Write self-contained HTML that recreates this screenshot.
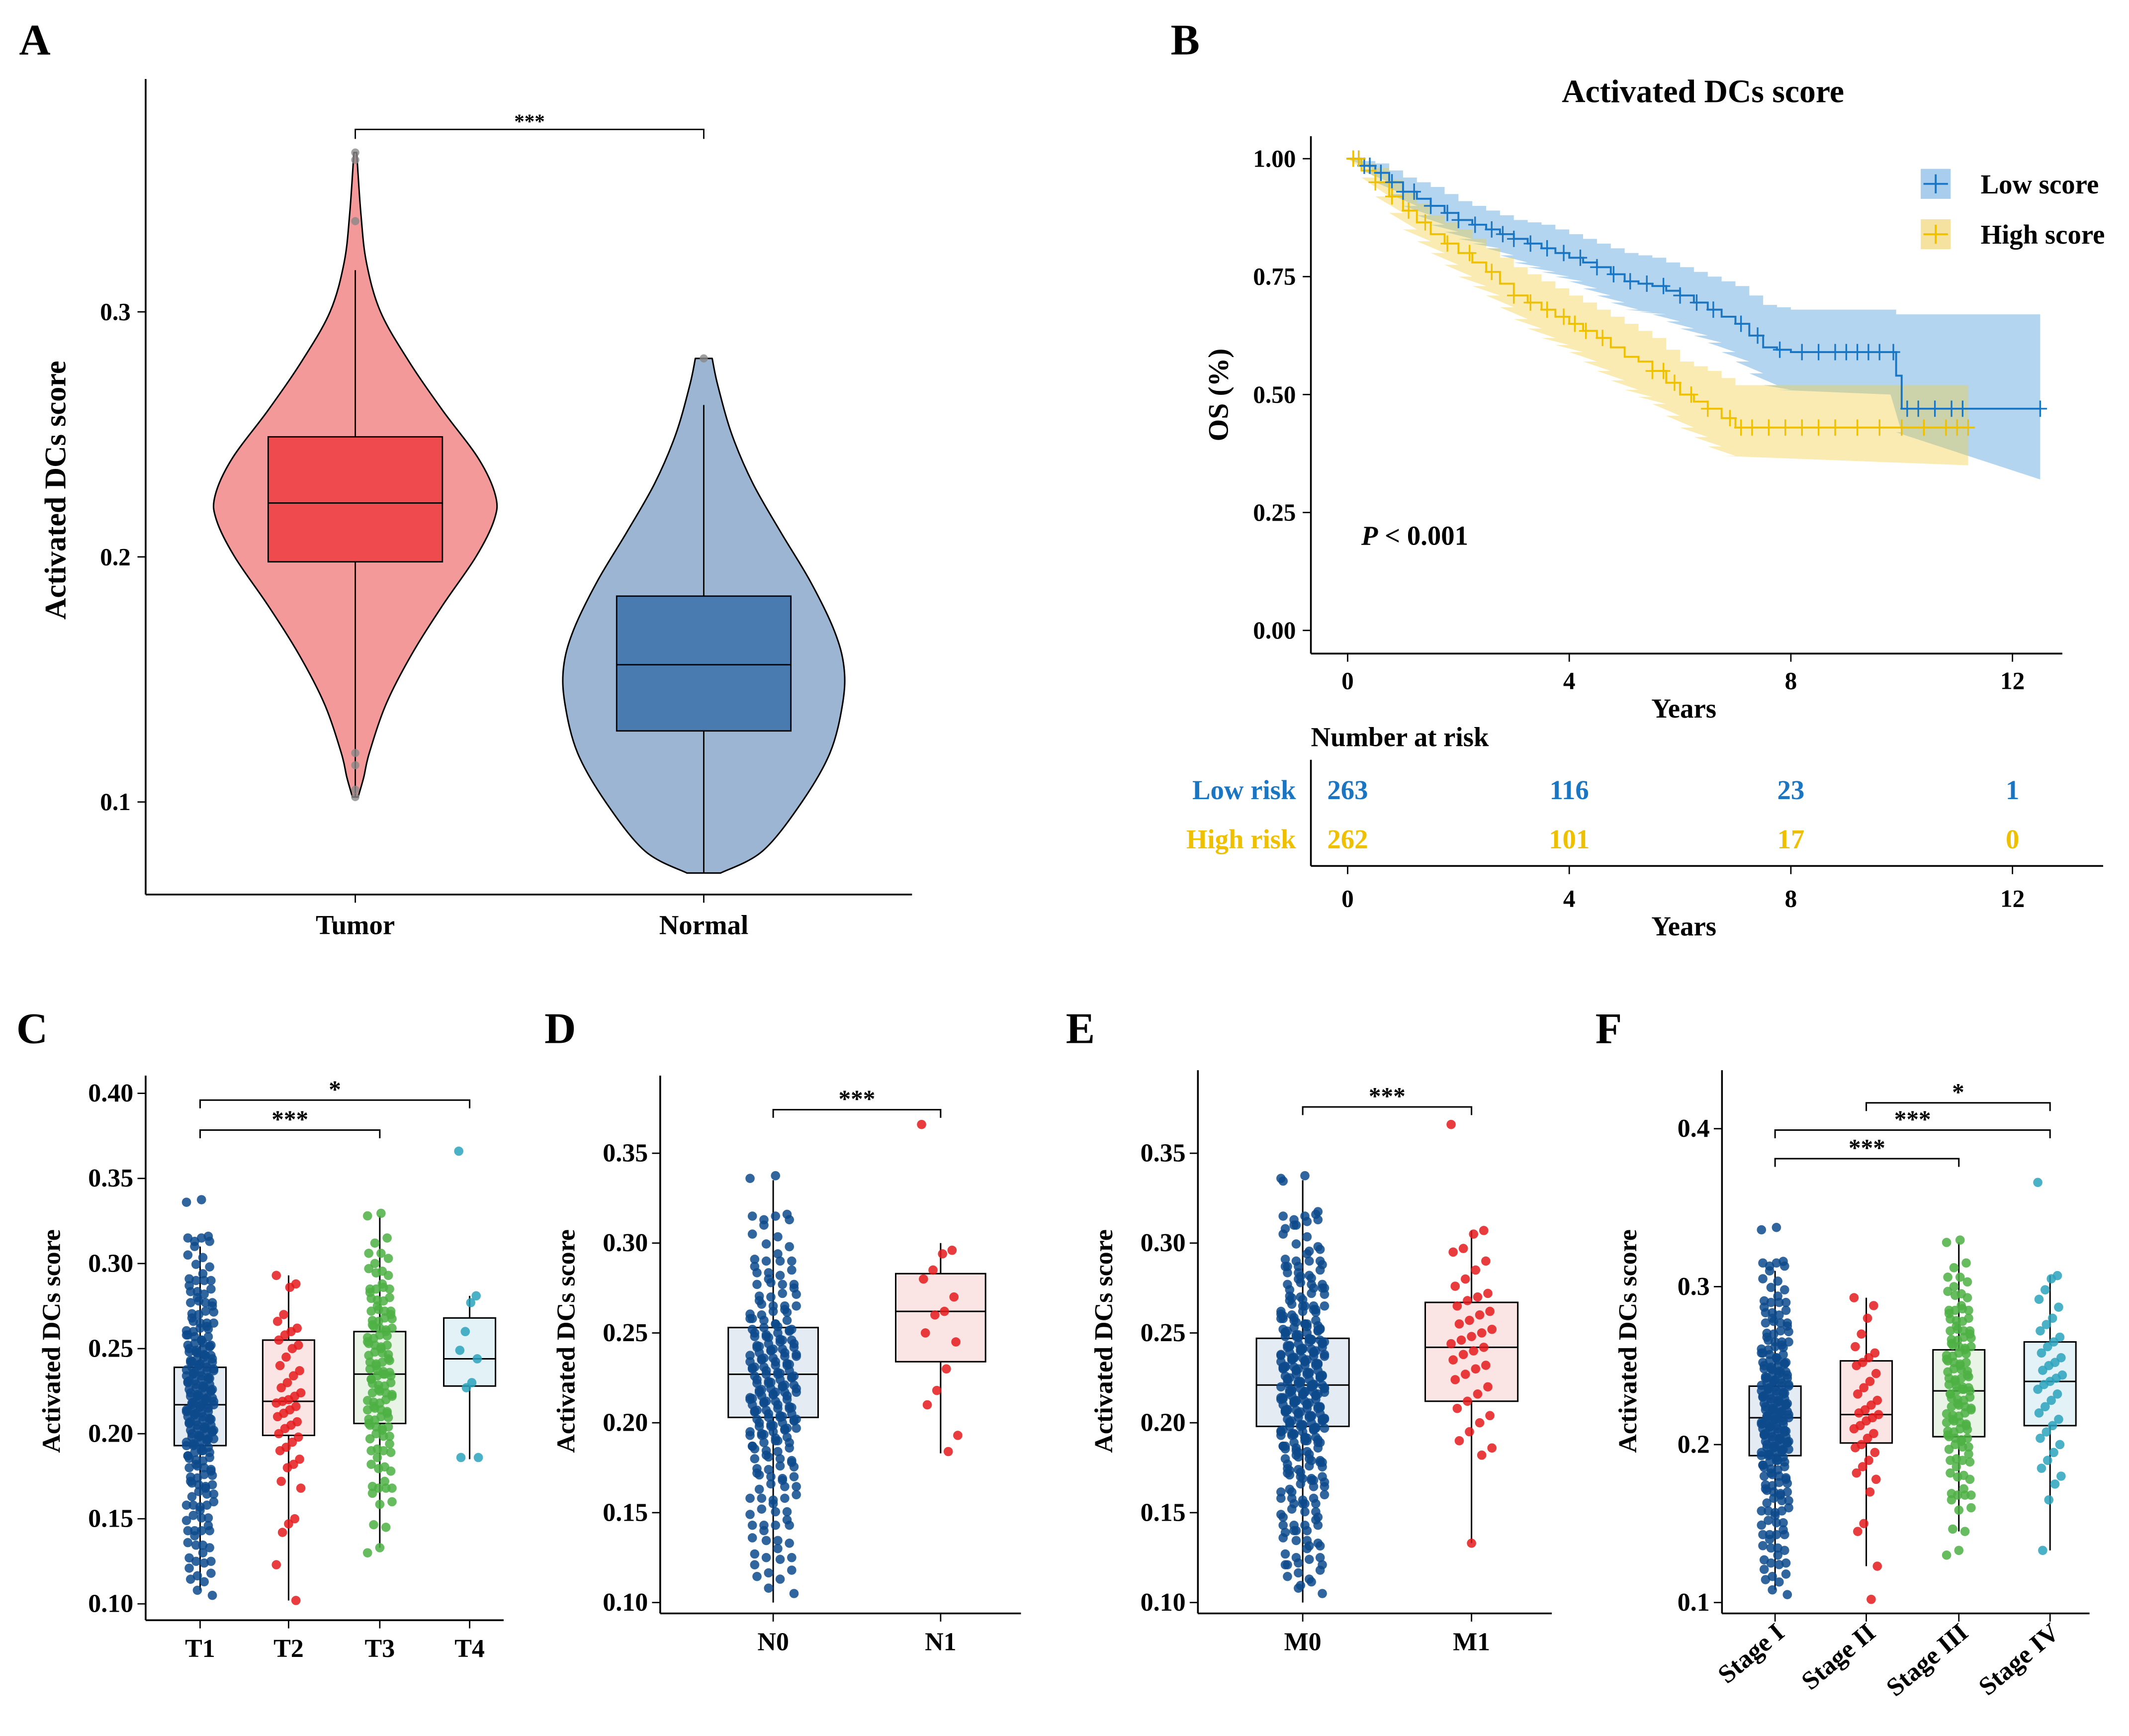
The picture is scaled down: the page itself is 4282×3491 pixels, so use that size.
<!DOCTYPE html>
<html><head><meta charset="utf-8"><style>
html,body{margin:0;padding:0;background:#fff}
svg{display:block;font-family:"Liberation Serif",serif;font-weight:bold}
</style></head><body>
<svg id="fig" width="4282" height="3491" viewBox="0 0 1564 1275" xmlns="http://www.w3.org/2000/svg">
<rect width="1564" height="1275" fill="#fff"/>
<g font-size="32">
<text x="14" y="40">A</text>
<text x="860" y="40">B</text>
<text x="12" y="766">C</text>
<text x="400" y="766">D</text>
<text x="783" y="766">E</text>
<text x="1172" y="766">F</text>
</g>
<g id="pA"></g>
<g id="pB"></g>
<g id="pC"></g>
<g id="pD"></g>
<g id="pE"></g>
<g id="pF"></g>
</svg>
<script>
// ---------- Panel A data ----------
const aCategories = ["Tumor","Normal"];
const aTicks = [0.1,0.2,0.3];
const tumorViolinV = [0.102,0.11,0.12,0.14,0.16,0.18,0.2,0.215,0.225,0.24,0.26,0.28,0.3,0.32,0.34,0.365];
const tumorViolinD = [0.02,0.06,0.1,0.22,0.4,0.62,0.86,0.99,1.0,0.88,0.62,0.38,0.18,0.08,0.04,0.01];
const normalViolinV = [0.071,0.08,0.1,0.12,0.14,0.155,0.17,0.19,0.21,0.23,0.25,0.27,0.281];
const normalViolinD = [0.12,0.42,0.7,0.9,0.99,1.0,0.93,0.76,0.55,0.35,0.2,0.1,0.06];
const aBoxStats = [[0.102,0.198,0.222,0.249,0.317],[0.071,0.129,0.156,0.184,0.262]];
const aOutliers = [[0.365,0.362,0.337,0.12,0.115,0.105,0.102],[0.281]];
// ---------- Panel B data ----------
const kmTicks = [0,4,8,12];
const kmYTicks = [0,0.25,0.5,0.75,1.0];
const lowT = [0,0.25,0.5,0.75,1,1.25,1.5,1.75,2,2.25,2.5,2.75,3,3.25,3.5,3.75,4,4.25,4.5,4.75,5,5.25,5.5,5.75,6,6.25,6.5,6.75,7,7.25,7.5,7.75,8,9.8,9.9,10,12.5];
const lowS = [1,0.985,0.97,0.95,0.93,0.915,0.9,0.885,0.87,0.86,0.85,0.84,0.83,0.82,0.81,0.8,0.79,0.78,0.77,0.755,0.74,0.735,0.73,0.72,0.71,0.695,0.68,0.665,0.65,0.625,0.6,0.595,0.59,0.59,0.54,0.47,0.47];
const lowU = [1,0.995,0.99,0.975,0.96,0.95,0.94,0.925,0.91,0.9,0.89,0.88,0.87,0.865,0.86,0.85,0.84,0.83,0.82,0.81,0.8,0.795,0.79,0.78,0.77,0.76,0.75,0.74,0.73,0.71,0.69,0.685,0.68,0.68,0.67,0.67,0.67];
const lowL = [1,0.975,0.95,0.925,0.9,0.88,0.86,0.845,0.83,0.82,0.81,0.795,0.78,0.77,0.76,0.75,0.74,0.725,0.71,0.695,0.68,0.675,0.67,0.655,0.64,0.625,0.61,0.59,0.57,0.545,0.52,0.51,0.5,0.5,0.42,0.32,0.32];
const highT = [0,0.25,0.5,0.75,1,1.25,1.5,1.75,2,2.25,2.5,2.75,3,3.25,3.5,3.75,4,4.25,4.5,4.75,5,5.25,5.5,5.75,6,6.25,6.5,6.75,7,11.2];
const highS = [1,0.975,0.95,0.92,0.89,0.865,0.84,0.82,0.8,0.78,0.76,0.735,0.71,0.695,0.68,0.665,0.65,0.635,0.62,0.6,0.58,0.57,0.55,0.525,0.5,0.485,0.47,0.45,0.43,0.43];
const highU = [1,0.99,0.98,0.955,0.93,0.905,0.88,0.865,0.85,0.83,0.81,0.79,0.77,0.755,0.74,0.725,0.71,0.695,0.68,0.665,0.65,0.635,0.62,0.595,0.57,0.56,0.55,0.535,0.52,0.52];
const highL = [1,0.96,0.92,0.885,0.85,0.825,0.8,0.775,0.75,0.73,0.71,0.685,0.66,0.64,0.62,0.605,0.59,0.57,0.55,0.53,0.51,0.495,0.48,0.455,0.43,0.41,0.39,0.37,0.35,0.35];
const lowCens = [0.1,0.2,0.3,0.4,0.6,0.8,1.0,1.2,1.5,1.8,2.0,2.3,2.6,2.8,3.0,3.3,3.6,3.9,4.2,4.5,4.8,5.1,5.4,5.7,6.0,6.3,6.6,7.1,7.4,7.8,8.2,8.5,8.8,9.0,9.2,9.4,9.6,9.85,10.1,10.3,10.6,10.9,11.1,12.5];
const highCens = [0.1,0.2,0.5,0.8,1.1,1.4,1.8,2.2,2.6,3.0,3.3,3.6,3.9,4.1,4.3,4.6,5.5,5.7,5.9,6.2,6.5,6.9,7.1,7.3,7.6,7.9,8.2,8.5,8.8,9.2,9.6,10.0,10.4,10.8,11.0,11.2];
const riskLow = [263,116,23,1];
const riskHigh = [262,101,17,0];
// ---------- Panels C-F data ----------
const tCats = ["T1","T2","T3","T4"];
const nCats = ["N0","N1"];
const mCats = ["M0","M1"];
const sCats = ["Stage I","Stage II","Stage III","Stage IV"];
const cTicks = [0.10,0.15,0.20,0.25,0.30,0.35,0.40];
const dTicks = [0.10,0.15,0.20,0.25,0.30,0.35];
const fTicks = [0.1,0.2,0.3,0.4];
const bigGroup = [0.336,0.316,0.315,0.31,0.305,0.298,0.294,0.29,0.287,0.285,0.282,0.28,0.277,0.275,0.272,0.27,0.268,0.265,0.263,0.262,0.26,0.258,0.257,0.255,0.253,0.252,0.251,0.25,0.249,0.248,0.246,0.245,0.244,0.243,0.242,0.241,0.24,0.239,0.238,0.237,0.236,0.235,0.234,0.233,0.232,0.231,0.23,0.229,0.228,0.227,0.226,0.225,0.224,0.223,0.222,0.221,0.22,0.219,0.218,0.217,0.217,0.216,0.215,0.214,0.213,0.212,0.211,0.21,0.209,0.208,0.207,0.206,0.205,0.204,0.203,0.202,0.201,0.2,0.199,0.198,0.197,0.196,0.195,0.194,0.193,0.192,0.19,0.189,0.187,0.186,0.184,0.182,0.18,0.178,0.176,0.174,0.172,0.17,0.168,0.166,0.163,0.16,0.158,0.155,0.152,0.149,0.146,0.143,0.14,0.136,0.133,0.13,0.125,0.121,0.118,0.113,0.108];
const t2Vals = [0.293,0.288,0.286,0.27,0.266,0.262,0.26,0.258,0.255,0.252,0.25,0.245,0.24,0.237,0.234,0.23,0.227,0.224,0.222,0.22,0.219,0.218,0.216,0.214,0.212,0.21,0.207,0.205,0.203,0.2,0.198,0.195,0.192,0.19,0.185,0.182,0.18,0.172,0.168,0.15,0.147,0.142,0.123,0.102];
const t3Vals = [0.328,0.315,0.306,0.3,0.297,0.293,0.288,0.285,0.283,0.28,0.278,0.275,0.272,0.27,0.268,0.266,0.264,0.262,0.26,0.258,0.256,0.254,0.252,0.25,0.248,0.246,0.244,0.242,0.24,0.238,0.236,0.235,0.234,0.232,0.23,0.228,0.226,0.224,0.222,0.22,0.218,0.216,0.214,0.212,0.21,0.208,0.206,0.204,0.202,0.2,0.197,0.194,0.19,0.186,0.182,0.178,0.172,0.168,0.165,0.16,0.145,0.133];
const t4Vals = [0.366,0.281,0.277,0.26,0.249,0.244,0.23,0.227,0.186,0.186];
const n1Vals = [0.366,0.296,0.294,0.285,0.28,0.27,0.262,0.26,0.25,0.245,0.23,0.218,0.21,0.193,0.184];
const m1Vals = [0.366,0.307,0.305,0.297,0.295,0.29,0.285,0.28,0.276,0.272,0.27,0.268,0.265,0.262,0.26,0.257,0.255,0.252,0.25,0.248,0.246,0.244,0.242,0.24,0.238,0.235,0.232,0.23,0.227,0.224,0.22,0.216,0.212,0.208,0.204,0.2,0.195,0.19,0.186,0.182,0.133];
const s2Vals = [0.293,0.288,0.28,0.27,0.262,0.258,0.255,0.252,0.25,0.245,0.24,0.236,0.232,0.228,0.225,0.222,0.22,0.219,0.217,0.215,0.212,0.21,0.207,0.204,0.2,0.198,0.195,0.19,0.186,0.182,0.178,0.17,0.15,0.145,0.123,0.102];
const s4Vals = [0.366,0.307,0.305,0.298,0.292,0.287,0.28,0.276,0.272,0.268,0.265,0.262,0.258,0.255,0.252,0.25,0.247,0.244,0.242,0.24,0.238,0.235,0.232,0.228,0.224,0.22,0.216,0.212,0.208,0.204,0.2,0.195,0.19,0.185,0.18,0.175,0.165,0.133];
const cBoxes = [[0.108,0.193,0.217,0.239,0.31],[0.102,0.199,0.219,0.255,0.293],[0.133,0.206,0.235,0.26,0.328],[0.185,0.228,0.244,0.268,0.281]];
const dBoxes = [[0.10,0.203,0.227,0.253,0.335],[0.183,0.234,0.262,0.283,0.30]];
const eBoxes = [[0.10,0.198,0.221,0.247,0.335],[0.133,0.212,0.242,0.267,0.307]];
const fBoxes = [[0.108,0.193,0.217,0.237,0.31],[0.123,0.201,0.219,0.253,0.293],[0.145,0.205,0.234,0.26,0.328],[0.133,0.212,0.24,0.265,0.307]];

const NS="http://www.w3.org/2000/svg";
function mk(tag, parent, attrs){const e=document.createElementNS(NS,tag);for(const k in attrs)e.setAttribute(k,attrs[k]);parent.appendChild(e);return e;}
function smooth(pts){let d='M'+pts[0][0]+','+pts[0][1];for(let i=0;i<pts.length-1;i++){const p0=pts[Math.max(0,i-1)],p1=pts[i],p2=pts[i+1],p3=pts[Math.min(pts.length-1,i+2)];
 d+=` C${p1[0]+(p2[0]-p0[0])/6},${p1[1]+(p2[1]-p0[1])/6} ${p2[0]-(p3[0]-p1[0])/6},${p2[1]-(p3[1]-p1[1])/6} ${p2[0]},${p2[1]}`;}return d;}

// ---------- Panel A ----------
(function(){
const g=document.getElementById('pA');
const y=v=>589-(v-0.1)*1800; const xs=[261,517];
let e=mk('line',g,{x1:107,y1:58,x2:107,y2:657,stroke:'#000','stroke-width':1.3});


e=mk('line',g,{x1:107,y1:657,x2:670,y2:657,stroke:'#000','stroke-width':1.3});


aTicks.forEach(t=>{mk('line',g,{x1:101,x2:107,y1:y(t),y2:y(t),stroke:'#000'});
 e=mk('text',g,{x:96,y:y(t)+6,'font-size':18,'text-anchor':'end'});e.textContent=t;
 
 });
e=mk('text',g,{x:0,y:0,'font-size':22,'text-anchor':'middle',transform:'translate(48,360) rotate(-90)'});e.textContent='Activated DCs score';


const vio=[[tumorViolinV,tumorViolinD,'#f4999a'],[normalViolinV,normalViolinD,'#9bb5d3']];
const boxC=['#ef4b4f','#4a7bb0'];
vio.forEach((vd,i)=>{const cx=xs[i];let R=[],L=[];
 vd[0].forEach((v,j)=>{R.push([cx+vd[1][j]*103,y(v)]);L.unshift([cx-vd[1][j]*103,y(v)]);});
 e=mk('path',g,{d:smooth(R)+' L'+L[0][0]+','+L[0][1]+' '+smooth(L).slice(1).replace(/^[^C]*/,'')+' Z',fill:vd[2],stroke:'#000','stroke-width':1.1,'stroke-linejoin':'round'});
 
 
 const b=aBoxStats[i];
 mk('line',g,{x1:cx,x2:cx,y1:y(b[0]),y2:y(b[4]),stroke:'#000','stroke-width':1});
 e=mk('rect',g,{x:cx-64,y:y(b[3]),width:128,height:y(b[1])-y(b[3]),fill:boxC[i],stroke:'#000','stroke-width':1});
 
 
 mk('line',g,{x1:cx-64,x2:cx+64,y1:y(b[2]),y2:y(b[2]),stroke:'#000','stroke-width':1});
 aOutliers[i].forEach(v=>{e=mk('circle',g,{cx:cx,cy:y(v),r:3,fill:'#888',opacity:0.8});
  
  });
 mk('line',g,{x1:cx,x2:cx,y1:657,y2:663,stroke:'#000'});
 e=mk('text',g,{x:cx,y:686,'font-size':20,'text-anchor':'middle'});e.textContent=aCategories[i];
 
 
});
e=mk('path',g,{d:'M261,102 V95 H517 V102',fill:'none',stroke:'#000','stroke-width':1});


e=mk('text',g,{x:389,y:94,'font-size':15,'text-anchor':'middle'});e.textContent='***';


})();

// ---------- Panel B ----------
(function(){
const g=document.getElementById('pB');
const x=t=>990+t*40.7, y=s=>463-s*346.5;
const blue='#1a75c2', yel='#eec000';
let e=mk('text',g,{x:1251,y:75,'font-size':24,'text-anchor':'middle'});e.textContent='Activated DCs score';


function stepPath(T,S){let d='M'+x(T[0])+','+y(S[0]);for(let i=1;i<T.length;i++)d+=' H'+x(T[i])+' V'+y(S[i]);return d;}
function band(T,U,L){let up=[],lo=[];for(let i=0;i<T.length;i++){const xe=i<T.length-1?x(T[i+1]):x(T[i]);
 up.push(x(T[i])+','+y(U[i]),xe+','+y(U[i]));lo.unshift(x(T[i])+','+y(L[i]),xe+','+y(L[i]));}
 return up.concat(lo).join(' ');}
e=mk('polygon',g,{points:band(lowT,lowU,lowL),fill:'#4a9ad8',opacity:0.42});


e=mk('polygon',g,{points:band(highT,highU,highL),fill:'#f2cc40',opacity:0.4});


e=mk('path',g,{d:stepPath(lowT,lowS),fill:'none',stroke:blue,'stroke-width':1.4});


e=mk('path',g,{d:stepPath(highT,highS),fill:'none',stroke:yel,'stroke-width':1.4});


function sAt(T,S,t){let s=S[0];for(let i=0;i<T.length;i++)if(T[i]<=t)s=S[i];return s;}
[[lowCens,lowT,lowS,blue],[highCens,highT,highS,yel]].forEach(c=>{
 c[0].forEach(t=>{const px=x(t),py=y(sAt(c[1],c[2],t));
  e=mk('path',g,{d:`M${px-5},${py} H${px+5} M${px},${py-6} V${py+6}`,stroke:c[3],'stroke-width':1.2});
  
  });});
mk('line',g,{x1:963,y1:100,x2:963,y2:480,stroke:'#000','stroke-width':1.3});
mk('line',g,{x1:963,y1:480,x2:1515,y2:480,stroke:'#000','stroke-width':1.3});
kmYTicks.forEach(t=>{mk('line',g,{x1:957,x2:963,y1:y(t),y2:y(t),stroke:'#000'});
 e=mk('text',g,{x:952,y:y(t)+6,'font-size':18,'text-anchor':'end'});e.textContent=t.toFixed(2);
 
 });
kmTicks.forEach(t=>{[[480,506],[636,666]].forEach(p=>{mk('line',g,{x1:x(t),x2:x(t),y1:p[0],y2:p[0]+6,stroke:'#000'});
 e=mk('text',g,{x:x(t),y:p[1],'font-size':18,'text-anchor':'middle'});e.textContent=t;
 
 });});
[[527,'b-x-axis-title'],[687,'risk-table-x-axis-title']].forEach(p=>{e=mk('text',g,{x:1237,y:p[0],'font-size':20,'text-anchor':'middle'});e.textContent='Years';
 
 });
e=mk('text',g,{x:0,y:0,'font-size':21,'text-anchor':'middle',transform:'translate(902,290) rotate(-90)'});e.textContent='OS (%)';


e=mk('text',g,{x:1000,y:400,'font-size':20});e.innerHTML='<tspan font-style="italic">P</tspan> &lt; 0.001';


[[135,'#a9cdec',blue,'Low score'],[172,'#f6e2a0',yel,'High score']].forEach((l,i)=>{
 e=mk('rect',g,{x:1411,y:l[0]-11,width:22,height:22,fill:l[1]});
 
 
 mk('path',g,{d:`M1413,${l[0]} H1431 M1422,${l[0]-7} V${l[0]+7}`,stroke:l[2],'stroke-width':1.4});
 e=mk('text',g,{x:1455,y:l[0]+7,'font-size':20});e.textContent=l[3];
 
 });
e=mk('text',g,{x:963,y:548,'font-size':20});e.textContent='Number at risk';


mk('line',g,{x1:963,y1:558,x2:963,y2:636,stroke:'#000','stroke-width':1.3});
mk('line',g,{x1:963,y1:636,x2:1545,y2:636,stroke:'#000','stroke-width':1.3});
[[587,'Low risk',riskLow,blue],[623,'High risk',riskHigh,yel]].forEach(r=>{
 e=mk('text',g,{x:952,y:r[0],'font-size':20,'text-anchor':'end',fill:r[3]});e.textContent=r[1];
 
 
 r[2].forEach((n,i)=>{e=mk('text',g,{x:x(kmTicks[i]),y:r[0],'font-size':20,'text-anchor':'middle',fill:r[3]});e.textContent=n;
  
  });});
})();

// ---------- Box + scatter panels ----------
function boxPanel(id,opt){
 const g=document.getElementById(id);
 const y=v=>opt.y0-(v-opt.v0)*opt.k;
 let e;
 opt.groups.forEach((vals,i)=>{const cx=opt.xs[i],b=opt.boxes[i],hw=opt.bw/2;
  mk('line',g,{x1:cx,x2:cx,y1:y(b[0]),y2:y(b[4]),stroke:'#000','stroke-width':1.1});
  e=mk('rect',g,{x:cx-hw,y:y(b[3]),width:opt.bw,height:y(b[1])-y(b[3]),fill:opt.fills[i],stroke:'#000','stroke-width':1.1});
  
  
  mk('line',g,{x1:cx-hw,x2:cx+hw,y1:y(b[2]),y2:y(b[2]),stroke:'#000','stroke-width':1.1});
  const reps=opt.reps[i];
  for(let r=0;r<reps;r++)vals.forEach((v,j)=>{const jit=(((j*37+r*53)%21)-10)/10*opt.jw[i];
   e=mk('circle',g,{cx:cx+jit,cy:y(v+(r?((j*7+r*3)%5-2)*0.0015:0)),r:3.4,fill:opt.cols[i],opacity:0.85});
   
   });
  mk('line',g,{x1:cx,x2:cx,y1:opt.xaxY,y2:opt.xaxY+6,stroke:'#000'});
  if(opt.rot){e=mk('text',g,{x:0,y:0,'font-size':19,'text-anchor':'end',transform:`translate(${cx+8},${opt.xaxY+16}) rotate(-40)`});}
  else{e=mk('text',g,{x:cx,y:opt.xaxY+27,'font-size':19,'text-anchor':'middle'});}
  e.textContent=opt.cats[i];
  
  
 });
 e=mk('line',g,{x1:opt.ax,y1:opt.top,x2:opt.ax,y2:opt.xaxY,stroke:'#000','stroke-width':1.3});
 
 
 e=mk('line',g,{x1:opt.ax,y1:opt.xaxY,x2:opt.right,y2:opt.xaxY,stroke:'#000','stroke-width':1.3});
 
 
 opt.ticks.forEach(t=>{mk('line',g,{x1:opt.ax-6,x2:opt.ax,y1:y(t),y2:y(t),stroke:'#000'});
  e=mk('text',g,{x:opt.ax-9,y:y(t)+6,'font-size':19,'text-anchor':'end'});e.textContent=opt.fmt(t);
  
  });
 e=mk('text',g,{x:0,y:0,'font-size':19,'text-anchor':'middle',transform:`translate(${opt.ax-63},${opt.ymid}) rotate(-90)`});e.textContent='Activated DCs score';
 
 
 opt.brackets.forEach(b=>{const x1=opt.xs[b[0]],x2=opt.xs[b[1]];
  e=mk('path',g,{d:`M${x1},${b[2]+6} V${b[2]} H${x2} V${b[2]+6}`,fill:'none',stroke:'#000','stroke-width':1.1});
  
  
  e=mk('text',g,{x:(x1+x2)/2,y:b[2]-2,'font-size':18,'text-anchor':'middle'});e.textContent=b[3];
  
  });
}
const blue4='#0d4a8c',red4='#e41a1c',green4='#4cb043',teal4='#2aa3bd';
boxPanel('pC',{cats:tCats,groups:[bigGroup,t2Vals,t3Vals,t4Vals],boxes:cBoxes,xs:[147,212,279,345],bw:38,
 fills:['#e4ebf3','#fbe4e4','#e9f4e6','#e3f2f6'],cols:[blue4,red4,green4,teal4],jw:[10,9,9,8],reps:[2,1,2,1],
 y0:1178,v0:0.10,k:1250,ax:107,top:790,xaxY:1190,right:370,ticks:cTicks,fmt:t=>t.toFixed(2),ymid:985,
 brackets:[[0,2,830,'***'],[0,3,808,'*']]});
boxPanel('pD',{cats:nCats,groups:[bigGroup,n1Vals],boxes:dBoxes,xs:[568,691],bw:66,
 fills:['#e4ebf3','#fbe4e4'],cols:[blue4,red4],jw:[17,14],reps:[2,1],
 y0:1177,v0:0.10,k:1320,ax:485,top:790,xaxY:1185,right:750,ticks:dTicks,fmt:t=>t.toFixed(2),ymid:985,
 brackets:[[0,1,815,'***']]});
boxPanel('pE',{cats:mCats,groups:[bigGroup,m1Vals],boxes:eBoxes,xs:[957,1081],bw:68,
 fills:['#e4ebf3','#fbe4e4'],cols:[blue4,red4],jw:[16,15],reps:[3,1],
 y0:1177,v0:0.10,k:1320,ax:880,top:786,xaxY:1185,right:1140,ticks:dTicks,fmt:t=>t.toFixed(2),ymid:985,
 brackets:[[0,1,813,'***']]});
boxPanel('pF',{cats:sCats,groups:[bigGroup,s2Vals,t3Vals,s4Vals],boxes:fBoxes,xs:[1304,1371,1439,1506],bw:38,
 fills:['#e4ebf3','#fbe4e4','#e9f4e6','#e3f2f6'],cols:[blue4,red4,green4,teal4],jw:[10,9,9,9],reps:[2,1,2,1],
 y0:1177,v0:0.10,k:1160,ax:1265,top:786,xaxY:1185,right:1535,ticks:fTicks,fmt:t=>t.toFixed(1),ymid:985,rot:true,
 brackets:[[0,2,851,'***'],[0,3,830,'***'],[1,3,810,'*']]});
</script>
</body></html>
